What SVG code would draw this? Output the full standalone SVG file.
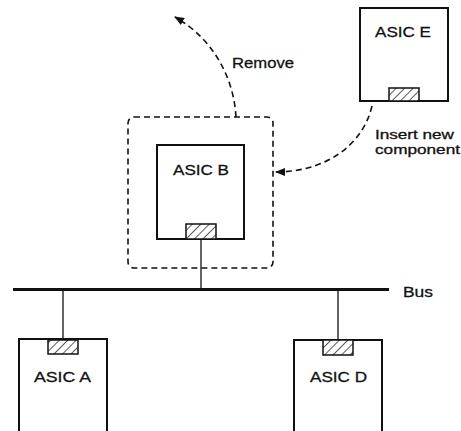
<svg xmlns="http://www.w3.org/2000/svg" width="461" height="431" viewBox="0 0 461 431">
<defs>
<pattern id="hatch" patternUnits="userSpaceOnUse" width="6" height="6" patternTransform="rotate(45)">
<rect width="6" height="6" fill="#fff"/>
<line x1="0" y1="0" x2="0" y2="6" stroke="#333" stroke-width="1.6"/>
</pattern>
<marker id="arrow" viewBox="0 0 10 8" refX="9" refY="4" markerWidth="10" markerHeight="8" markerUnits="userSpaceOnUse" orient="auto">
<path d="M0,0 L10,4 L0,8 Z" fill="#111"/>
</marker>
<style>
.box{fill:#fff;stroke:#111;stroke-width:2}
.port{fill:url(#hatch);stroke:#111;stroke-width:1.5}
.lbl{font-family:"Liberation Sans",Arial,sans-serif;font-size:15px;fill:#111;stroke:#111;stroke-width:0.3}
.sm{font-size:13px}
.dash{fill:none;stroke:#111;stroke-width:1.6;stroke-dasharray:6 4}
.stem{stroke:#111;stroke-width:1.3}
</style>
</defs>
<rect width="461" height="431" fill="#fff"/>
<g id="connectors">
<line x1="13" y1="289.5" x2="389" y2="289.5" stroke="#111" stroke-width="3"/>
<line class="stem" x1="201" y1="239" x2="201" y2="289"/>
<line class="stem" x1="63" y1="289" x2="63" y2="340"/>
<line class="stem" x1="338" y1="289" x2="338" y2="340"/>
<path class="dash" d="M236,117 C234,80 215,40 175,17" marker-end="url(#arrow)"/>
<path class="dash" d="M372,106 C362,148 322,172 276,172" marker-end="url(#arrow)"/>
<text class="lbl" x="403" y="297" textLength="30" lengthAdjust="spacingAndGlyphs">Bus</text>
<text class="lbl" x="232" y="68" textLength="62" lengthAdjust="spacingAndGlyphs">Remove</text>
<text class="lbl sm" x="375" y="139" textLength="79" lengthAdjust="spacingAndGlyphs">Insert new</text>
<text class="lbl sm" x="375" y="154" textLength="85" lengthAdjust="spacingAndGlyphs">component</text>
</g>
<g id="removal-boundary">
<rect class="dash" x="128" y="117" width="145" height="151" rx="6"/>
</g>
<g id="asic-b">
<rect class="box" x="157" y="145" width="87" height="94"/>
<rect class="port" x="186" y="224" width="30" height="15"/>
<text class="lbl" x="173" y="175" textLength="56" lengthAdjust="spacingAndGlyphs">ASIC B</text>
</g>
<g id="asic-e">
<rect class="box" x="360" y="8" width="88" height="93"/>
<rect class="port" x="389" y="88" width="30" height="13"/>
<text class="lbl" x="375" y="37" textLength="56" lengthAdjust="spacingAndGlyphs">ASIC E</text>
</g>
<g id="asic-a">
<rect class="box" x="19" y="339" width="88" height="110"/>
<rect class="port" x="48" y="340" width="30" height="14"/>
<text class="lbl" x="34" y="382" textLength="57" lengthAdjust="spacingAndGlyphs">ASIC A</text>
</g>
<g id="asic-d">
<rect class="box" x="294" y="340" width="88" height="110"/>
<rect class="port" x="323" y="340" width="30" height="15"/>
<text class="lbl" x="310" y="382" textLength="57" lengthAdjust="spacingAndGlyphs">ASIC D</text>
</g>
</svg>
